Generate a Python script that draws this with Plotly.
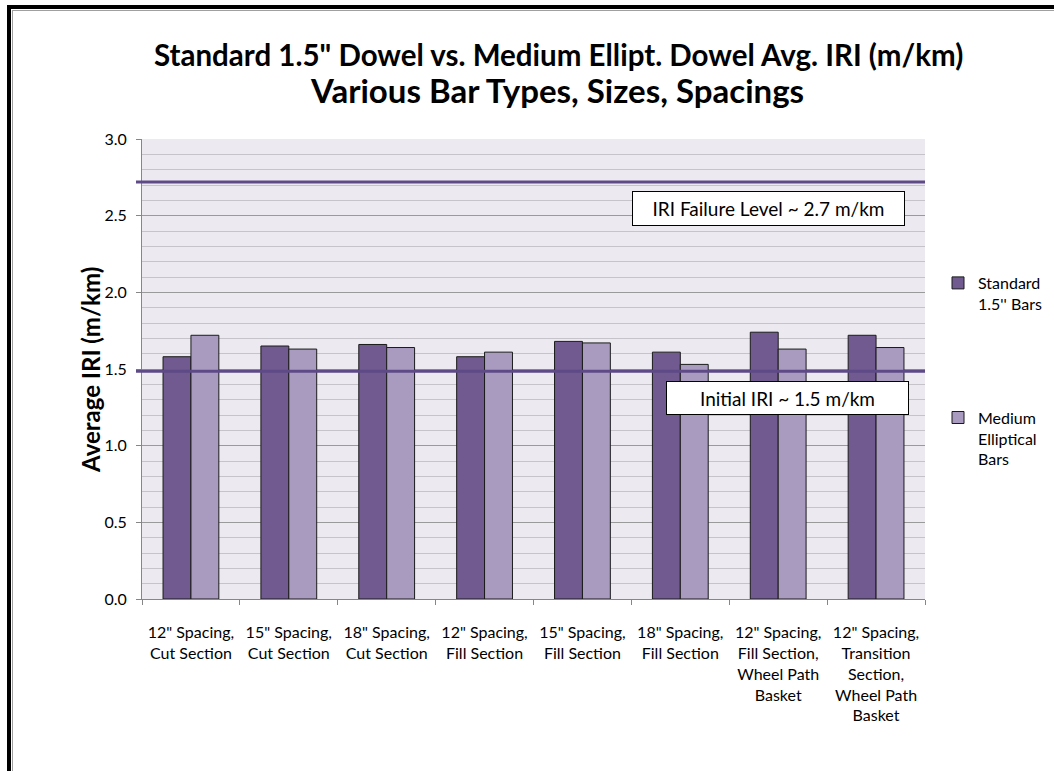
import plotly.graph_objects as go

# Section / spacing categories (x axis)
categories = [
    "12\" Spacing,<br>Cut Section",
    "15\" Spacing,<br>Cut Section",
    "18\" Spacing,<br>Cut Section",
    "12\" Spacing,<br>Fill Section",
    "15\" Spacing,<br>Fill Section",
    "18\" Spacing,<br>Fill Section",
    "12\" Spacing,<br>Fill Section,<br>Wheel Path<br>Basket",
    "12\" Spacing,<br>Transition<br>Section,<br>Wheel Path<br>Basket",
]

# Average IRI (m/km) per dowel type
standard_bars = [1.58, 1.65, 1.66, 1.58, 1.68, 1.61, 1.74, 1.72]
elliptical_bars = [1.72, 1.63, 1.64, 1.61, 1.67, 1.53, 1.63, 1.64]

# Reference IRI levels (m/km)
failure_level = 2.72
initial_level = 1.485

FONT = "Lato, 'Open Sans', sans-serif"
DARK = "#705A8F"
LIGHT = "#A99BC0"
REF_LINE = "#5E4A87"

W, H = 1054, 771
L, R, T, B = 142, 129, 139, 172
PW, PH = W - L - R, H - T - B


def px_x(px):
    return (px - L) / PW


def px_y(py):
    return (H - B - py) / PH


fig = go.Figure()
fig.add_trace(go.Bar(
    x=categories, y=standard_bars, name="Standard<br>1.5'' Bars",
    legendgroup="a",
    marker=dict(color=DARK, line=dict(color="#1a1a1a", width=1)),
))
fig.add_trace(go.Bar(
    x=categories, y=elliptical_bars, name="Medium<br>Elliptical<br>Bars",
    legendgroup="b",
    marker=dict(color=LIGHT, line=dict(color="#1a1a1a", width=1)),
))

shapes = []
for lvl in (failure_level, initial_level):
    shapes.append(dict(
        type="line", xref="paper", yref="y",
        x0=px_x(136), x1=1.0, y0=lvl, y1=lvl,
        line=dict(color=REF_LINE, width=3), layer="above",
    ))
# outer frame of the chart
shapes.append(dict(
    type="line", xref="paper", yref="paper",
    x0=px_x(7), x1=px_x(1060), y0=px_y(7), y1=px_y(7),
    line=dict(color="black", width=4),
))
shapes.append(dict(
    type="line", xref="paper", yref="paper",
    x0=px_x(9), x1=px_x(9), y0=px_y(5), y1=px_y(780),
    line=dict(color="black", width=4),
))
shapes.append(dict(
    type="line", xref="paper", yref="paper",
    x0=px_x(12), x1=px_x(1060), y0=px_y(10.5), y1=px_y(10.5),
    line=dict(color="#A0A0A0", width=1),
))
shapes.append(dict(
    type="line", xref="paper", yref="paper",
    x0=px_x(12.5), x1=px_x(12.5), y0=px_y(10), y1=px_y(780),
    line=dict(color="#A0A0A0", width=1),
))


def note(text, cx, cy, size, **kw):
    return dict(text=text, xref="paper", yref="paper",
                x=px_x(cx), y=px_y(cy), xanchor="center", yanchor="middle",
                showarrow=False, font=dict(family=FONT, size=size, color="black"),
                **kw)


annotations = [
    note("<b>Standard 1.5\" Dowel vs. Medium Ellipt. Dowel Avg. IRI (m/km)</b>",
         558, 55, 29.5),
    note("<b>Various Bar Types, Sizes, Spacings</b>", 557, 90, 33),
    note("<b>Average IRI (m/km)</b>", 90, 370, 24, textangle=-90),
    note("IRI Failure Level ~ 2.7 m/km", 768, 208.5, 19,
         bgcolor="white", bordercolor="black", borderwidth=1,
         width=269, height=31),
    note("Initial IRI ~ 1.5 m/km", 787.5, 398, 19,
         bgcolor="white", bordercolor="black", borderwidth=1,
         width=239, height=30),
]

fig.update_layout(
    width=W, height=H,
    margin=dict(l=L, r=R, t=T, b=B, autoexpand=False),
    paper_bgcolor="white",
    plot_bgcolor="#ECEAF0",
    font=dict(family=FONT, size=16, color="black"),
    barmode="group",
    bargap=0.43,
    bargroupgap=0,
    shapes=shapes,
    annotations=annotations,
    legend=dict(
        x=px_x(938), y=px_y(266), xanchor="left", yanchor="top",
        font=dict(family=FONT, size=16, color="black"),
        tracegroupgap=90, valign="top", bgcolor="rgba(0,0,0,0)",
        itemwidth=30,
    ),
    xaxis=dict(
        showgrid=False, showline=True, linecolor="#868686", linewidth=1,
        ticks="outside", ticklen=5, tickcolor="#868686",
        tickson="boundaries", tickangle=0, automargin=False,
        ticklabelstandoff=19,
        tickfont=dict(family=FONT, size=16, color="black"),
    ),
    yaxis=dict(
        range=[0, 3.0], dtick=0.5, tickformat=".1f",
        showgrid=True, gridcolor="#9A9A9A", gridwidth=1,
        showline=True, linecolor="#868686", linewidth=1,
        ticks="outside", ticklen=5, tickcolor="#868686",
        zeroline=False, automargin=False, ticklabelstandoff=6,
        tickfont=dict(family=FONT, size=16, color="black"),
        minor=dict(dtick=0.1, showgrid=True, gridcolor="#C6C4CA", gridwidth=1),
    ),
)

fig.write_html("out.html")
